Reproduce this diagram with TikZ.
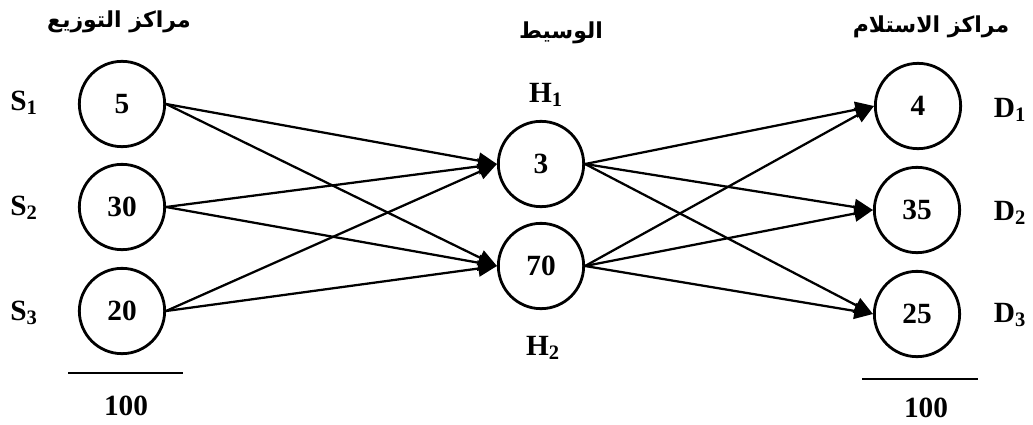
\documentclass[tikz,border=0pt]{standalone}
\usepackage{fontspec}
\setmainfont{Liberation Serif}
\newfontfamily\arabicfont[Script=Arabic]{DejaVu Sans}
\TeXXeTstate=1
\usetikzlibrary{arrows.meta}

\begin{document}
\begin{tikzpicture}[x=0.75pt, y=-0.75pt,
  hub/.style={draw, circle, line width=2.1pt, minimum size=64pt, inner sep=0pt, font=\fontsize{22}{26}\selectfont\bfseries},
  tag/.style={font=\fontsize{22}{26}\selectfont\bfseries},
  head/.style={font=\arabicfont\fontsize{16.5}{20}\selectfont\bfseries},
  flow/.style={line width=1.7pt, -{Triangle[length=14pt,width=12pt]}}
]
  \useasboundingbox (0,0) rectangle (1033,425);

  \node[head] (hs) at (119,22) {\beginR مراكز التوزيع\endR};
  \node[head] (hh) at (561,33) {\beginR الوسيط\endR};
  \node[head] (hd) at (931,27) {\beginR مراكز الاستلام\endR};

  \node[hub] (s1) at (122,104) {5};
  \node[hub] (s2) at (122,207) {30};
  \node[hub] (s3) at (122,311) {20};

  \node[hub] (h1) at (541,164) {3};
  \node[hub] (h2) at (541,266) {70};

  \node[hub] (d1) at (918,106) {4};
  \node[hub] (d2) at (917,210) {35};
  \node[hub] (d3) at (917,314) {25};

  \node[tag] (ls1) at (24,103) {S\textsubscript{1}};
  \node[tag] (ls2) at (24,208) {S\textsubscript{2}};
  \node[tag] (ls3) at (24,313) {S\textsubscript{3}};
  \node[tag] (lh1) at (546,95) {H\textsubscript{1}};
  \node[tag] (lh2) at (543,348) {H\textsubscript{2}};
  \node[tag] (ld1) at (1010,110) {D\textsubscript{1}};
  \node[tag] (ld2) at (1010,213) {D\textsubscript{2}};
  \node[tag] (ld3) at (1010,315) {D\textsubscript{3}};

  \draw[line width=2.2pt] (68,373) -- (183,373);
  \draw[line width=2.2pt] (862,379) -- (978,379);
  \node[tag] (ts) at (126,406) {100};
  \node[tag] (td) at (926,408) {100};

  \draw[flow] (s1.east) -- (h1.west); \draw[flow] (s1.east) -- (h2.west);
  \draw[flow] (s2.east) -- (h1.west); \draw[flow] (s2.east) -- (h2.west);
  \draw[flow] (s3.east) -- (h1.west); \draw[flow] (s3.east) -- (h2.west);

  \draw[flow] (h1.east) -- (d1.west); \draw[flow] (h1.east) -- (d2.west);
  \draw[flow] (h1.east) -- (d3.west);
  \draw[flow] (h2.east) -- (d1.west); \draw[flow] (h2.east) -- (d2.west);
  \draw[flow] (h2.east) -- (d3.west);
\end{tikzpicture}
\end{document}
